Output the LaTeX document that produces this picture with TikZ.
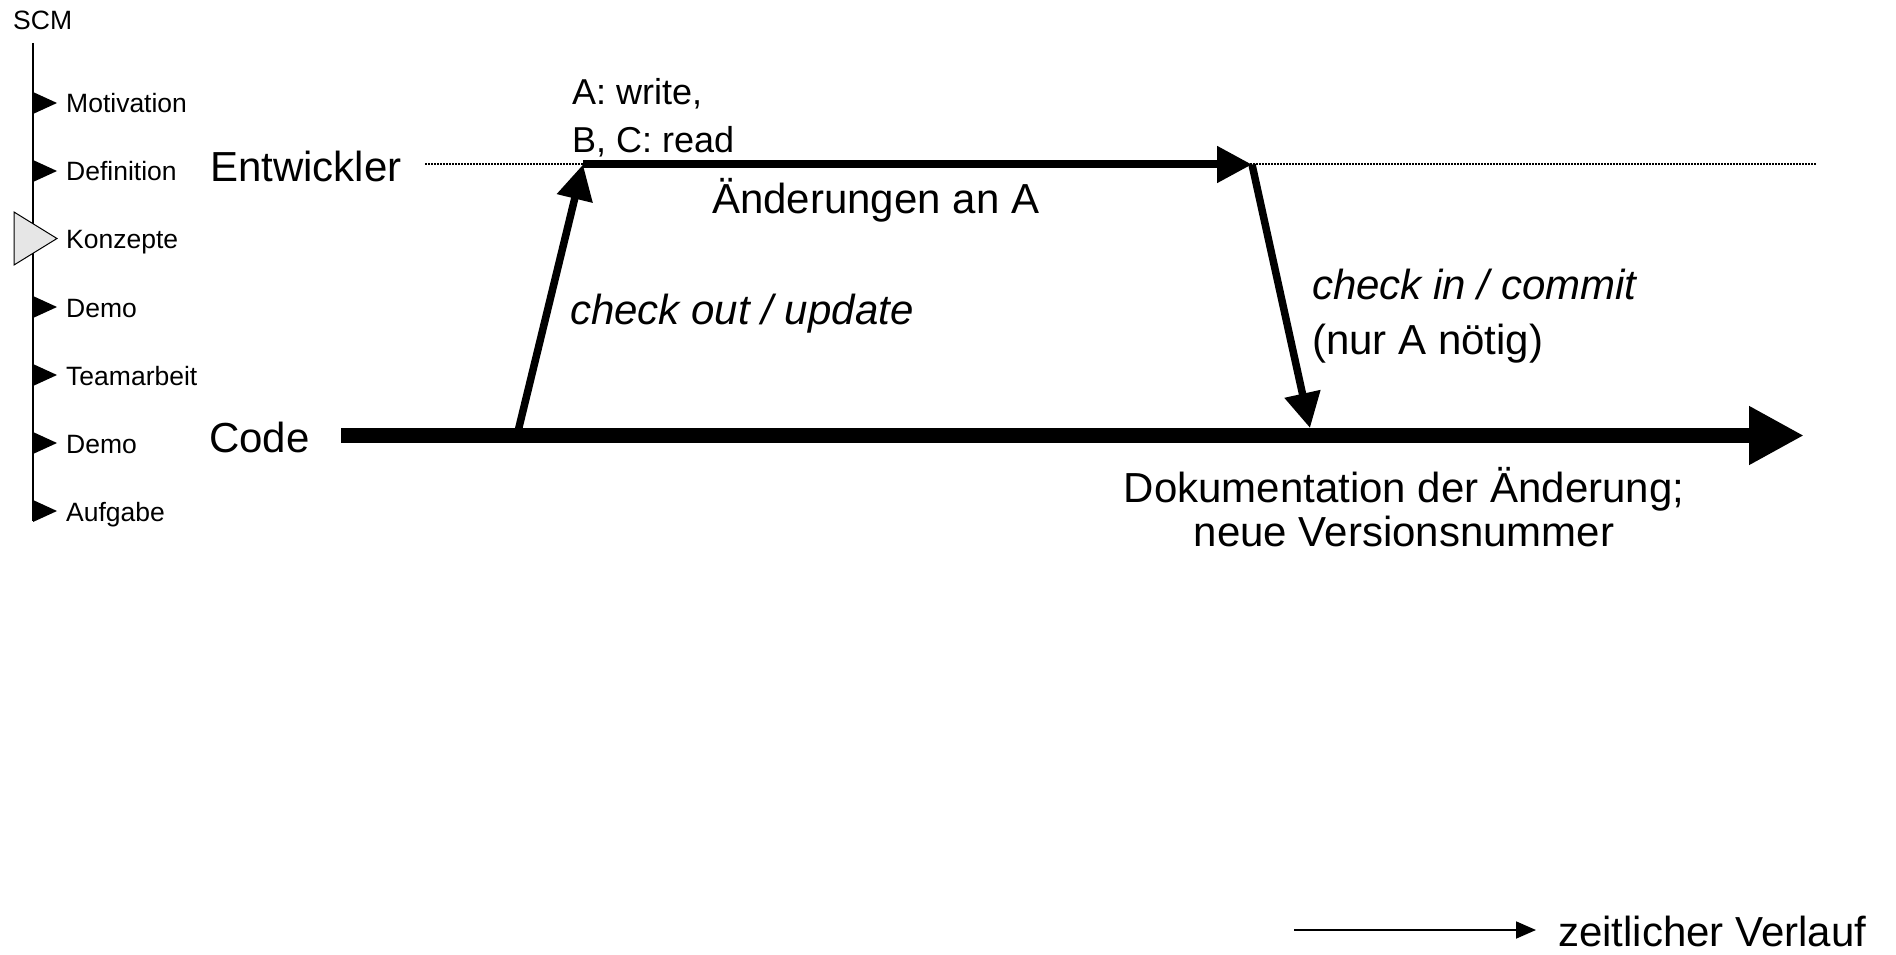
\documentclass[tikz,border=0pt]{standalone}
\usepackage{fontspec}
\setmainfont{Liberation Sans}
\usetikzlibrary{arrows.meta}
\definecolor{navgray}{HTML}{E6E6E6}
\begin{document}
\begin{tikzpicture}[x=1pt,y=-1pt,
  navtext/.style={font=\fontsize{26.5}{30}\selectfont, anchor=base west, inner sep=0pt},
  bigtext/.style={font=\fontsize{42}{50}\selectfont, anchor=base west, inner sep=0pt},
  midtext/.style={font=\fontsize{36}{43}\selectfont, anchor=base west, inner sep=0pt},
  flow/.style={line width=7.5pt, -{Triangle[length=35pt,width=35pt]}},
  codeflow/.style={line width=15pt, -{Triangle[length=55pt,width=55pt]}},
  timeflow/.style={line width=1.8pt, -{Triangle[length=20pt,width=17pt]}},
  navmark/.style={fill=black},
  navcur/.style={fill=navgray, draw=black, line width=1pt, line join=miter},
  lane/.style={line width=1.2pt, black, dash pattern=on 1.5pt off 1.5pt}]
\useasboundingbox (0,0) rectangle (1896,955);

% sidebar
\node[navtext] (scm) at (13,30) {SCM};
\coordinate (navtop) at (33,43);
\coordinate (navbot) at (33,521);
\draw[line width=2pt] (navtop) -- (navbot);
\foreach \i/\t in {0/Motivation,1/Definition,3/Demo,4/Teamarbeit,5/Demo,6/Aufgabe}{
  \pgfmathsetmacro{\yy}{103+68*\i}
  \fill[navmark] (33,\yy-11) -- (57,\yy) -- (33,\yy+11) -- cycle;
  \node[navtext] (nav\i) at (66,\yy+10) {\t};
}
\draw[navcur] (14,212) -- (57,238.5) -- (14,265) -- cycle;
\node[navtext] (nav2) at (66,248.5) {Konzepte};

% lane labels
\node[bigtext] (ent) at (210,182) {Entwickler};
\node[bigtext] (code) at (209,452) {Code};

% coordinates
\coordinate (laneStart) at (425,164);
\coordinate (laneEnd) at (1817,164);
\coordinate (codeStart) at (341,435.5);
\coordinate (codeEnd) at (1804,435.5);
\coordinate (outBase) at (517,435.5);
\coordinate (outTip) at (583,164.5);
\coordinate (workEnd) at (1252,164.5);
\coordinate (inTip) at (1310,428);
\coordinate (timeStart) at (1294,930);
\coordinate (timeEnd) at (1536,930);

\draw[lane] (laneStart) -- (laneEnd);
\draw[codeflow] (codeStart) -- (codeEnd);
\draw[flow] (outBase) -- (outTip);
\draw[flow, line width=8pt] (outTip) -- (workEnd);
\draw[flow] (workEnd) -- (inTip);
\draw[timeflow] (timeStart) -- (timeEnd);

% texts
\node[midtext] (aw) at (572,105) {A: write,};
\node[midtext] (bc) at (572,153) {B, C: read};
\node[bigtext] (aend) at (712,213) {Änderungen an A};
\node[bigtext, font=\fontsize{42}{50}\selectfont\itshape] (cout) at (570,324) {check out / update};
\node[bigtext, font=\fontsize{42}{50}\selectfont\itshape] (cin) at (1312,299) {check in / commit};
\node[bigtext] (nura) at (1312,354) {(nur A nötig)};
\node[bigtext, anchor=base] (doku) at (1404,502) {Dokumentation der Änderung;};
\node[bigtext, anchor=base] (vers) at (1404,546) {neue Versionsnummer};
\node[bigtext] (zeit) at (1558,946) {zeitlicher Verlauf};
\end{tikzpicture}
\end{document}
